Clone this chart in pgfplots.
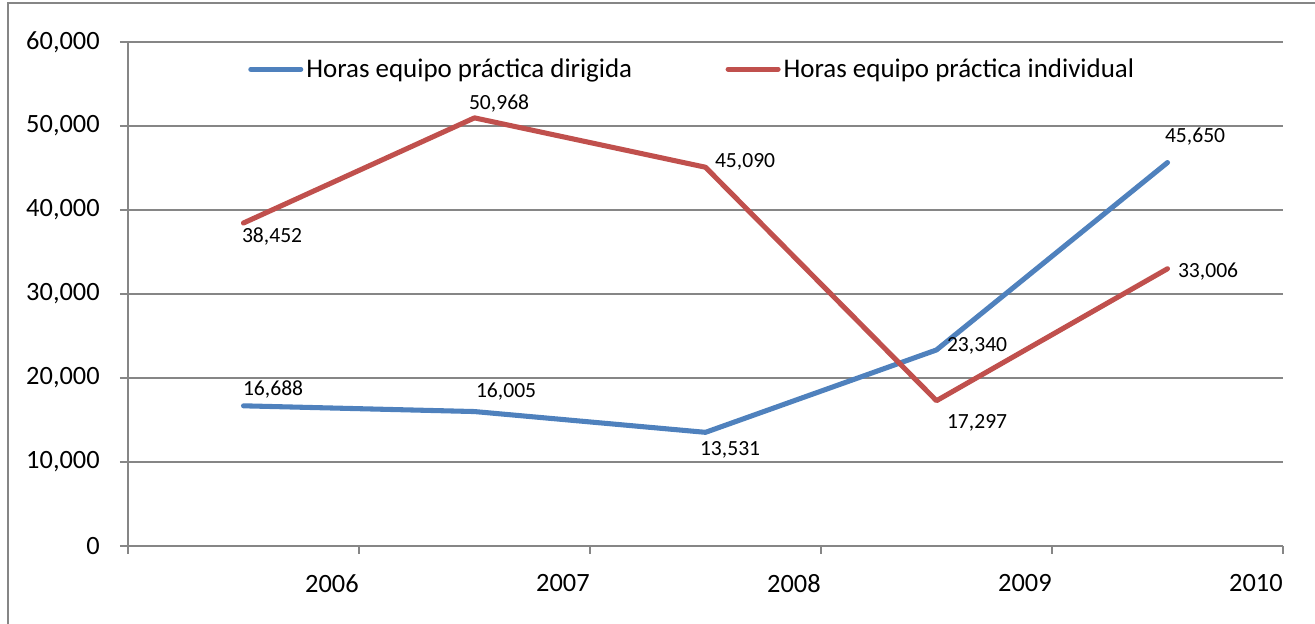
\documentclass[border=0pt]{standalone}
\usepackage{fontspec}
\setmainfont{Carlito}
\usepackage{pgfplots}
\usepackage{pgfplotstable}
\pgfplotsset{compat=1.18}
\definecolor{xlblue}{RGB}{79,129,189}
\definecolor{xlred}{RGB}{192,80,77}
\definecolor{xlgrid}{RGB}{134,134,134}
\pgfplotstableread{
x y lab dx dy
0.5 16688 16,688 -2.25 7.5
1.5 16005 16,005 -0.75 10.2
2.5 13531 13,531 -6 -17
3.5 23340 23,340 6 -1.5
4.5 45650 45,650 -3.75 15.4
}\dirigida
\pgfplotstableread{
x y lab dx dy
0.5 38452 38,452 -3 -14.25
1.5 50968 50,968 -6 6
2.5 45090 45,090 5.25 0
3.5 17297 17,297 6 -20.5
4.5 33006 33,006 6 -6.2
}\individual
\begin{document}
\begin{tikzpicture}
\useasboundingbox (-96pt,-58.5pt) rectangle (890.25pt,409.5pt);
\draw[xlgrid, line width=1.1pt] (-90pt,-80pt) rectangle (900pt,407.25pt);
\begin{axis}[
  at={(0pt,0pt)}, anchor=origin,
  scale only axis, width=866.25pt, height=378pt,
  xmin=0, xmax=5, ymin=0, ymax=60000,
  axis x line*=bottom, axis y line*=left,
  axis line style={xlgrid, line width=1.1pt},
  xtick={0,1,2,3,4,5},
  xticklabels={,2006,2007,2008,2009,2010},
  ytick={0,10000,20000,30000,40000,50000,60000},
  scaled y ticks=false,
  /pgf/number format/fixed,
  /pgf/number format/1000 sep={,},
  /pgf/number format/assume math mode=true,
  tick align=outside, major tick length=6pt,
  tick style={xlgrid, line width=1.1pt},
  ymajorgrids, major grid style={xlgrid, line width=1.1pt},
  tick label style={font=\fontsize{19.8}{22}\selectfont, text=black},
  xticklabel style={anchor=north east, inner sep=0pt, yshift=-15pt},
  yticklabel style={anchor=east, inner sep=0pt, xshift=-15pt},
  legend columns=2,
  legend image code/.code={\draw[#1, line cap=round] (1.5pt,0pt) -- (39pt,0pt);},
  legend style={at={(rel axis cs:0.1039,0.946)}, anchor=west, draw=none, fill=none,
    inner sep=0pt, font=\fontsize{20.2}{22}\selectfont,
    nodes={inner sep=0pt},
    /tikz/every odd column/.append style={column sep=2.25pt},
    /tikz/every even column/.append style={column sep=70pt}},
  point meta=explicit symbolic,
  nodes near coords,
  visualization depends on={\thisrow{dx} \as \mydx},
  visualization depends on={\thisrow{dy} \as \mydy},
  every node near coord/.append style={anchor=base west, inner sep=0pt,
    xshift=\mydx pt, yshift=\mydy pt, font=\fontsize{16.2}{18}\selectfont, text=black},
]
\addplot[xlblue, line width=3.8pt, line join=round, line cap=round, mark=none]
  table[x=x, y=y, meta=lab] {\dirigida};
\addlegendentry{Horas equipo práctica dirigida}
\addplot[xlred, line width=3.8pt, line join=round, line cap=round, mark=none]
  table[x=x, y=y, meta=lab] {\individual};
\addlegendentry{Horas equipo práctica individual}
\end{axis}
\end{tikzpicture}
\end{document}
